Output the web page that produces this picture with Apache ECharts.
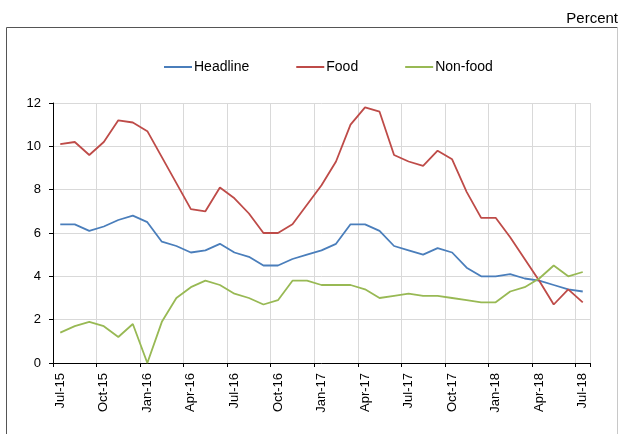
<!DOCTYPE html>
<html>
<head>
<meta charset="utf-8">
<script src="https://cdn.jsdelivr.net/npm/echarts@6/dist/echarts.min.js"></script>
<style>
  html, body { margin: 0; padding: 0; background: #fff; }
  #chart { width: 619px; height: 434px; }
</style>
</head>
<body>
<div id="chart"></div>
<script>
// Monthly inflation, year-on-year, Jul-15 to Jul-18
const months = [
  'Jul-15','Aug-15','Sep-15','Oct-15','Nov-15','Dec-15',
  'Jan-16','Feb-16','Mar-16','Apr-16','May-16','Jun-16',
  'Jul-16','Aug-16','Sep-16','Oct-16','Nov-16','Dec-16',
  'Jan-17','Feb-17','Mar-17','Apr-17','May-17','Jun-17',
  'Jul-17','Aug-17','Sep-17','Oct-17','Nov-17','Dec-17',
  'Jan-18','Feb-18','Mar-18','Apr-18','May-18','Jun-18',
  'Jul-18'
];
const headline = [
  6.4, 6.4, 6.1, 6.3, 6.6, 6.8,
  6.5, 5.6, 5.4, 5.1, 5.2, 5.5,
  5.1, 4.9, 4.5, 4.5, 4.8, 5.0,
  5.2, 5.5, 6.4, 6.4, 6.1, 5.4,
  5.2, 5.0, 5.3, 5.1, 4.4, 4.0,
  4.0, 4.1, 3.9, 3.8, 3.6, 3.4,
  3.3
];
const food = [
  10.1, 10.2, 9.6, 10.2, 11.2, 11.1,
  10.7, 9.5, 8.3, 7.1, 7.0, 8.1,
  7.6, 6.9, 6.0, 6.0, 6.4, 7.3,
  8.2, 9.3, 11.0, 11.8, 11.6, 9.6,
  9.3, 9.1, 9.8, 9.4, 7.9, 6.7,
  6.7, 5.8, 4.8, 3.8, 2.7, 3.4,
  2.8
];
const nonFood = [
  1.4, 1.7, 1.9, 1.7, 1.2, 1.8,
  0.0, 1.9, 3.0, 3.5, 3.8, 3.6,
  3.2, 3.0, 2.7, 2.9, 3.8, 3.8,
  3.6, 3.6, 3.6, 3.4, 3.0, 3.1,
  3.2, 3.1, 3.1, 3.0, 2.9, 2.8,
  2.8, 3.3, 3.5, 3.9, 4.5, 4.0,
  4.2
];
const seriesNames = ['Headline', 'Food', 'Non-food'];
const seriesColors = ['#4a7ebb', '#be4b48', '#98b954'];

const FONT = '"Liberation Sans", Arial, sans-serif';
const chart = echarts.init(document.getElementById('chart'), null, { renderer: 'canvas' });

const lineSeries = [headline, food, nonFood].map((values, k) => ({
  name: seriesNames[k],
  type: 'line',
  data: values,
  showSymbol: false,
  symbol: 'none',
  smooth: false,
  lineStyle: { color: seriesColors[k], width: 1.8 },
  itemStyle: { color: seriesColors[k] },
  emphasis: { disabled: true },
  animation: false
}));

chart.setOption({
  animation: false,
  textStyle: { fontFamily: FONT },
  grid: { left: 53, top: 103, width: 537, height: 260, containLabel: false },
  legend: {
    data: seriesNames,
    left: 164,
    top: 60,
    padding: 0,
    itemWidth: 28,
    itemHeight: 2,
    itemGap: 47,
    icon: 'rect',
    textStyle: { fontFamily: FONT, fontSize: 14, color: '#000', padding: [0, 0, 0, -3] }
  },
  xAxis: {
    type: 'category',
    data: months,
    boundaryGap: true,
    axisLine: { lineStyle: { color: '#000', width: 1 } },
    axisTick: { show: true, interval: 2, length: 4, inside: false, lineStyle: { color: '#000' } },
    axisLabel: {
      interval: 2,
      rotate: 90,
      margin: 10,
      fontFamily: FONT,
      fontSize: 13,
      color: '#000'
    },
    splitLine: { show: true, interval: 2, lineStyle: { color: '#d9d9d9', width: 1 } }
  },
  yAxis: {
    type: 'value',
    min: 0,
    max: 12,
    interval: 2,
    axisLine: { show: true, lineStyle: { color: '#000', width: 1 } },
    axisTick: { show: true, length: 4, lineStyle: { color: '#000' } },
    axisLabel: { margin: 12, fontFamily: FONT, fontSize: 13, color: '#000' },
    splitLine: { show: true, lineStyle: { color: '#d9d9d9', width: 1 } }
  },
  series: lineSeries,
  graphic: [
    {
      type: 'line',
      silent: true,
      shape: { x1: 6.5, y1: 27.5, x2: 617.5, y2: 27.5 },
      style: { stroke: '#555', lineWidth: 1 }
    },
    {
      type: 'line',
      silent: true,
      shape: { x1: 6.5, y1: 27.5, x2: 6.5, y2: 434 },
      style: { stroke: '#555', lineWidth: 1 }
    },
    {
      type: 'line',
      silent: true,
      shape: { x1: 617.5, y1: 27.5, x2: 617.5, y2: 434 },
      style: { stroke: '#c8c8c8', lineWidth: 1 }
    },
    {
      type: 'text',
      silent: true,
      x: 618,
      y: 26,
      style: {
        text: 'Percent',
        fontFamily: FONT,
        fontSize: 15,
        fill: '#000',
        align: 'right',
        verticalAlign: 'bottom'
      }
    }
  ]
});
</script>
</body>
</html>
